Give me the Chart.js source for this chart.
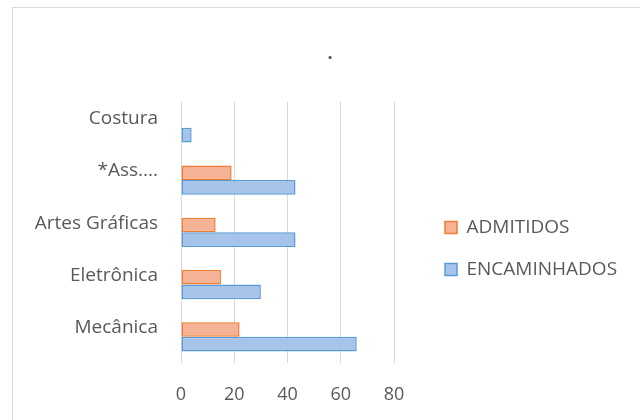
<!DOCTYPE html>
<html>
<head>
<meta charset="utf-8">
<script src="https://cdn.jsdelivr.net/npm/chart.js@4/dist/chart.umd.min.js"></script>
<style>
  html, body { margin: 0; padding: 0; background: #fff; }
  #wrap { position: relative; width: 640px; height: 420px; overflow: hidden; }
  #frame { position: absolute; left: 12px; top: 7px; width: 700px; height: 500px; border: 1px solid #d9d9d9; box-sizing: border-box; }
  canvas { position: absolute; left: 0; top: 0; }
</style>
</head>
<body>
<div id="wrap">
  <div id="frame"></div>
  <canvas id="chart" width="640" height="420"></canvas>
</div>
<script>
const categories = ['Costura', '*Ass....', 'Artes Gráficas', 'Eletrônica', 'Mecânica']
const admitidos = [0, 19, 13, 15, 22]
const encaminhados = [4, 43, 43, 30, 66]
const xTicks = [0, 20, 40, 60, 80]

const textColor = '#595959'
const fontFamily = '"Open Sans", Lato, sans-serif'
const legendWidth = 218

// chart.js caps a side legend at a share of the width, give it room
const legendFit = {
  id: 'legendFit',
  beforeLayout(chart) {
    const legend = chart.legend
    if (!legend || legend._fixedWidth) return
    const fit = legend.fit
    legend.fit = function () {
      fit.call(this)
      this.width = legendWidth
    }
    legend._fixedWidth = true
  }
}

const ctx = document.getElementById('chart')

new Chart(ctx, {
  type: 'bar',
  data: {
    labels: categories,
    datasets: [
      {
        label: 'ADMITIDOS',
        data: admitidos,
        backgroundColor: '#f6b294',
        borderColor: '#ed7d31',
        borderWidth: 1.5,
        borderSkipped: false,
        categoryPercentage: 0.56,
        barPercentage: 1
      },
      {
        label: 'ENCAMINHADOS',
        data: encaminhados,
        backgroundColor: '#a6c3e9',
        borderColor: '#5b9bd5',
        borderWidth: 1.5,
        borderSkipped: false,
        categoryPercentage: 0.56,
        barPercentage: 1
      }
    ]
  },
  plugins: [legendFit],
  options: {
    indexAxis: 'y',
    responsive: false,
    animation: false,
    layout: {
      padding: { left: 20, right: 0, top: 0, bottom: 0 }
    },
    plugins: {
      title: {
        display: true,
        text: '.',
        color: textColor,
        font: { family: fontFamily, size: 18 },
        padding: { top: 43, bottom: 37 }
      },
      legend: {
        position: 'right',
        fullSize: false,
        title: {
          display: true,
          text: ' ',
          font: { family: fontFamily, size: 18 },
          padding: { top: 0, bottom: 11 }
        },
        labels: {
          color: textColor,
          font: { family: fontFamily, size: 19 },
          boxWidth: 12,
          boxHeight: 12,
          padding: 23,
          useBorderRadius: false
        }
      },
      tooltip: { enabled: false }
    },
    scales: {
      x: {
        min: 0,
        max: 80,
        afterBuildTicks: (scale) => {
          scale.ticks = xTicks.map((v) => ({ value: v }))
        },
        grid: { color: '#d9d9d9', lineWidth: 1, drawTicks: false },
        border: { display: false },
        ticks: {
          color: textColor,
          font: { family: fontFamily, size: 18 },
          padding: 21
        },
        afterFit: (scale) => {
          scale.height = 57
        }
      },
      y: {
        grid: { display: false, drawTicks: false },
        border: { display: false },
        ticks: {
          color: textColor,
          font: { family: fontFamily, size: 19 },
          padding: 23,
          labelOffset: -9
        },
        afterFit: (scale) => {
          scale.width = 161
        }
      },
      ySpacer: {
        type: 'linear',
        axis: 'y',
        position: 'right',
        grid: { display: false, drawTicks: false },
        border: { display: false },
        ticks: { display: false },
        afterFit: (scale) => {
          scale.width = 28
        }
      }
    }
  }
})
</script>
</body>
</html>
